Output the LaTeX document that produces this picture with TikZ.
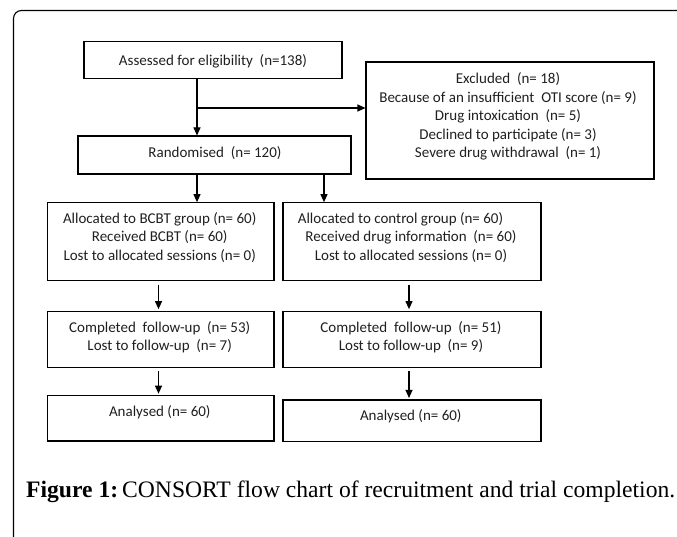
\documentclass[tikz,border=0pt]{standalone}
\usepackage{fontspec}
\setmainfont{Liberation Serif}
\newfontfamily\boxfont{Carlito}
\usetikzlibrary{arrows.meta}
\begin{document}
\begin{tikzpicture}[x=1pt,y=-1pt,
  box/.style={draw=black,line width=1.1pt,inner sep=0pt},
  txt/.style={font=\boxfont\fontsize{15}{18.5}\selectfont,align=center,inner sep=0pt,text=black!88},
  arr/.style={line width=1.1pt,-{Triangle[length=8pt,width=7pt]}},
  frame/.style={line width=1.1pt,rounded corners=8pt}]
\useasboundingbox (0,0) rectangle (677,537);
% outer frame
\draw[frame] (13.5,540) -- (13.5,10.5) -- (680,10.5);
% boxes
\node[box,minimum width=258pt,minimum height=36.5pt] (assess) at (213,60) {};
\node[box,minimum width=288pt,minimum height=117pt] (excl) at (510,120.5) {};
\node[box,minimum width=273pt,minimum height=38pt] (rand) at (214.5,155) {};
\node[box,minimum width=226.5pt,minimum height=78pt] (bcbt) at (160.75,241.7) {};
\node[box,minimum width=258pt,minimum height=78pt] (ctrl) at (412,241.7) {};
\node[box,minimum width=226.5pt,minimum height=56pt] (fl) at (160.75,339.7) {};
\node[box,minimum width=258pt,minimum height=56pt] (fr) at (412,339.7) {};
\node[box,minimum width=226.5pt,minimum height=45.3pt] (al) at (160.75,418.35) {};
\node[box,minimum width=258pt,minimum height=41.7pt] (ar) at (412,420.85) {};
% texts
\node[txt] (assesst) at (213,61) {Assessed for eligibility\ \ (n=138)};
\node[txt] (exclt) at (508,116.5) {Excluded\ \ (n= 18)\\Because of an insufficient\ \ OTI score (n= 9)\\Drug intoxication\ \ (n= 5)\\Declined to participate (n= 3)\\Severe drug withdrawal\ \ (n= 1)};
\node[txt] (randt) at (215,153.3) {Randomised\ \ (n= 120)};
\node[txt] (bcbtt) at (159.7,237.5) {Allocated to BCBT group (n= 60)\\Received BCBT (n= 60)\\Lost to allocated sessions (n= 0)};
\node[txt] (ctrlt) at (411,237.5) {Allocated to control group (n= 60)\hspace*{21pt}\\Received drug information\ \ (n= 60)\\Lost to allocated sessions (n= 0)};
\node[txt] (flt) at (159.7,337.4) {Completed\ \ follow-up\ \ (n= 53)\\Lost to follow-up\ \ (n= 7)};
\node[txt] (frt) at (411,337.4) {Completed\ \ follow-up\ \ (n= 51)\\Lost to follow-up\ \ (n= 9)};
\node[txt] (alt) at (159.8,412.7) {Analysed (n= 60)};
\node[txt] (art) at (410.8,416.7) {Analysed (n= 60)};
% connectors
\coordinate (c1) at (197,0);
\coordinate (c2) at (324,0);
\coordinate (c3) at (158.5,0);
\coordinate (c4) at (409,0);
\coordinate (br) at (197,108);
\draw[arr] (assess.south -| c1) -- (rand.north -| c1);
\draw[arr] (br) -- (br -| excl.west);
\draw[arr] (rand.south -| c1) -- (bcbt.north -| c1);
\draw[arr] (rand.south -| c2) -- (ctrl.north -| c2);
\draw[arr,shorten <=3.5pt,shorten >=2pt] (bcbt.south -| c3) -- (fl.north -| c3);
\draw[arr,shorten <=3.5pt,shorten >=2pt] (ctrl.south -| c4) -- (fr.north -| c4);
\draw[arr,shorten <=3pt,shorten >=1.5pt] (fl.south -| c3) -- (al.north -| c3);
\draw[arr,shorten <=3pt,shorten >=1.5pt] (fr.south -| c4) -- (ar.north -| c4);
% caption
\node[anchor=base west,inner sep=0pt,font=\fontsize{23.6}{27}\selectfont] (cap) at (26,497) {\textbf{Figure 1:}\hspace{4pt}CONSORT flow chart of recruitment and trial completion.};
\end{tikzpicture}
\end{document}
